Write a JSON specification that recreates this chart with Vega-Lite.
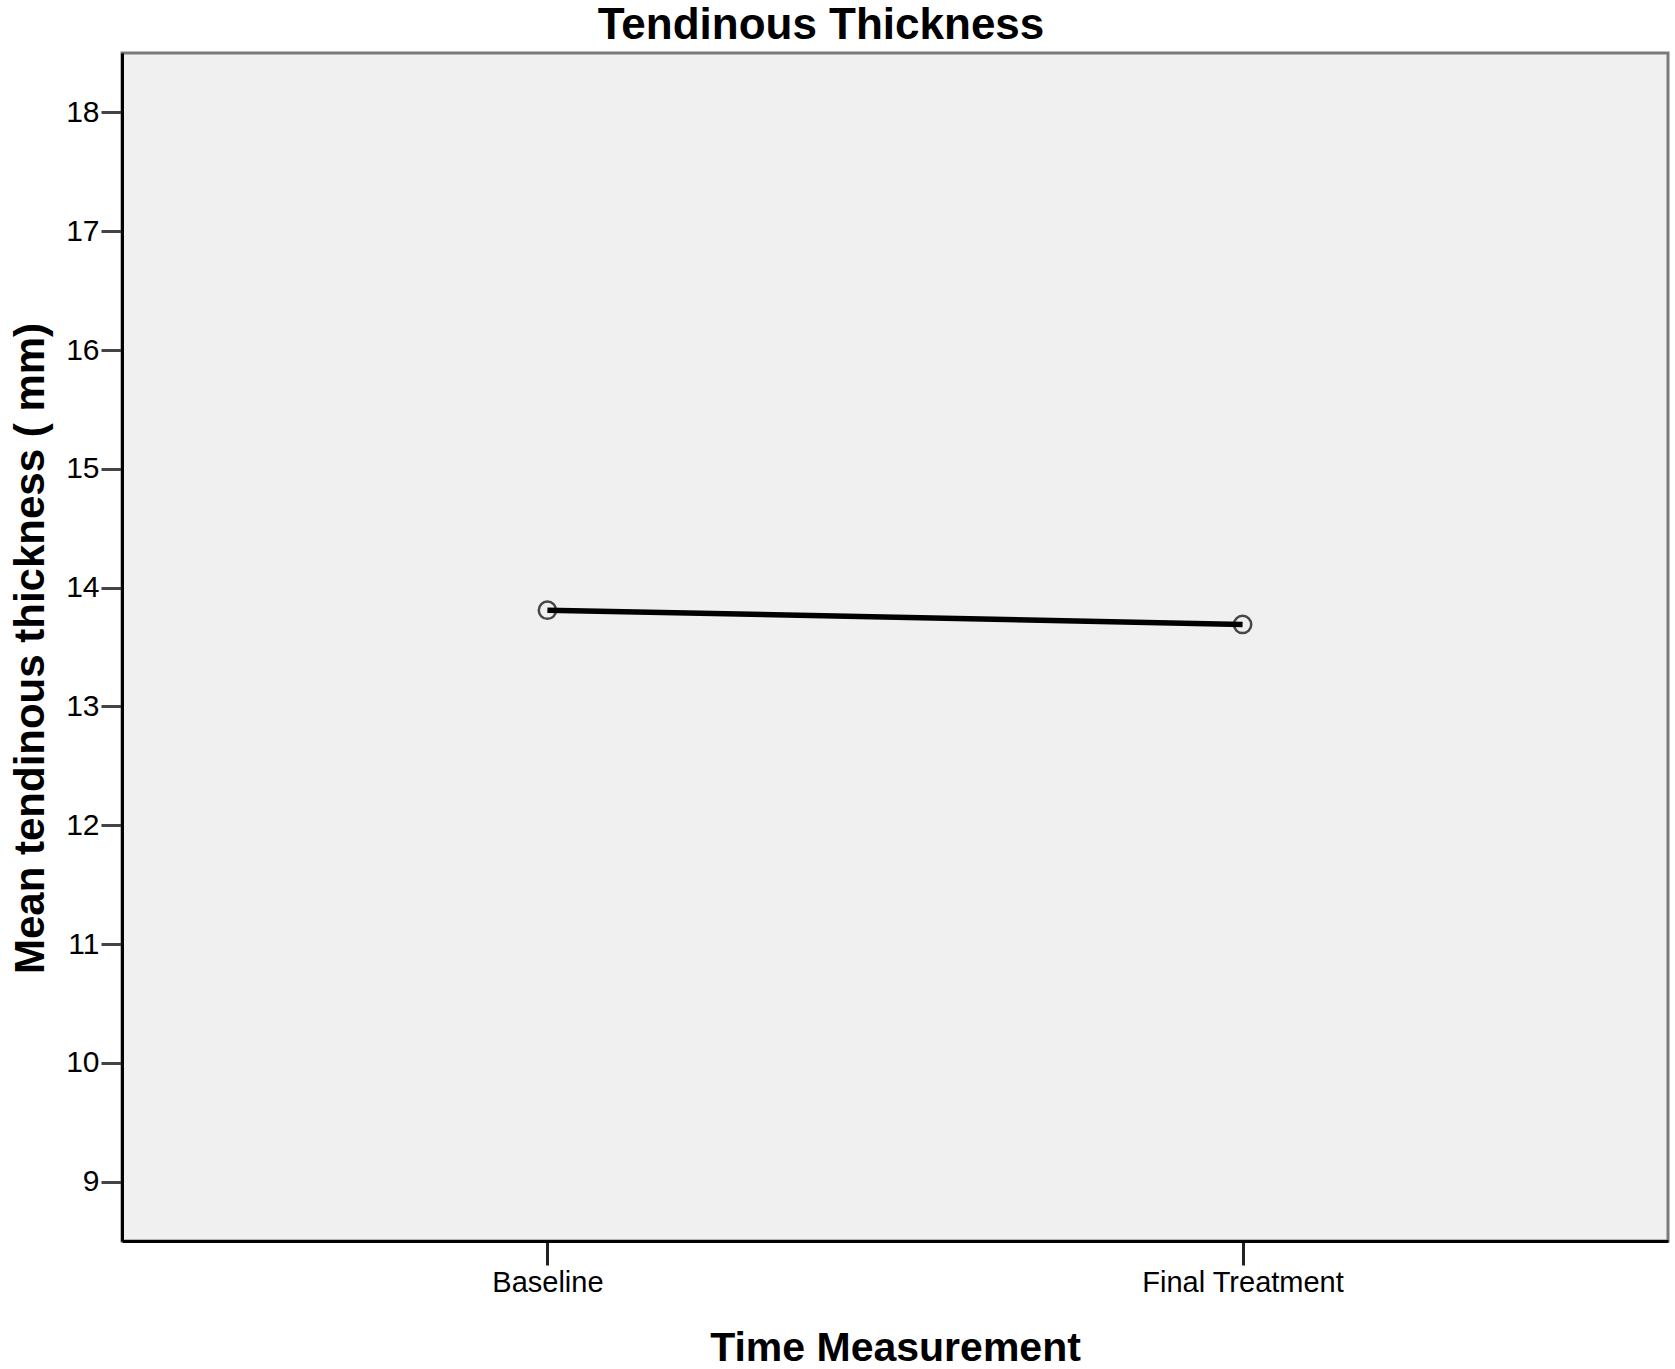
{
  "$schema": "https://vega.github.io/schema/vega-lite/v6.json",
  "autosize": {"type": "none"},
  "padding": {"left": 122, "top": 53, "right": 7, "bottom": 128},
  "width": 1546,
  "height": 1188,
  "background": "white",
  "title": {
    "text": "Tendinous Thickness",
    "font": "Liberation Sans",
    "fontSize": 44,
    "fontWeight": "bold",
    "color": "black",
    "anchor": "middle",
    "frame": "group",
    "baseline": "bottom",
    "offset": 4,
    "dx": -74,
    "dy": 43
  },
  "config": {
    "view": {"fill": "#f0f0f0", "stroke": "#7a7a7a", "strokeWidth": 3},
    "axis": {"grid": false, "labelFont": "Liberation Sans", "titleFont": "Liberation Sans", "labelColor": "black", "titleColor": "black"}
  },
  "data": {
    "values": [
      {"time": "Baseline", "thickness": 13.81},
      {"time": "Final Treatment", "thickness": 13.69}
    ]
  },
  "encoding": {
    "x": {
      "field": "time",
      "type": "nominal",
      "sort": null,
      "scale": {"type": "point", "padding": 0.612},
      "axis": {
        "title": "Time Measurement",
        "titleFontSize": 41,
        "titleFontWeight": "bold",
        "titleBaseline": "alphabetic",
        "titleY": 119,
        "labelAngle": 0,
        "labelFontSize": 29,
        "labelLimit": 0,
        "labelPadding": 3,
        "tickSize": 24,
        "tickWidth": 3,
        "tickColor": "#222",
        "domainColor": "black",
        "domainWidth": 3
      }
    },
    "y": {
      "field": "thickness",
      "type": "quantitative",
      "scale": {"domain": [8.5, 18.5], "nice": false, "zero": false},
      "axis": {
        "title": "Mean tendinous thickness ( mm)",
        "titleFontSize": 42,
        "titleFontWeight": "bold",
        "titleAngle": -90,
        "titleBaseline": "alphabetic",
        "titleX": -79,
        "titleY": 595,
        "values": [9, 10, 11, 12, 13, 14, 15, 16, 17, 18],
        "labelFontSize": 30,
        "labelPadding": 2,
        "tickSize": 21,
        "tickWidth": 3,
        "tickColor": "#444",
        "domainColor": "black",
        "domainWidth": 3
      }
    }
  },
  "layer": [
    {"mark": {"type": "line", "color": "black", "strokeWidth": 5.5}},
    {"mark": {"type": "point", "shape": "circle", "filled": false, "stroke": "black", "strokeWidth": 2.5, "size": 300}}
  ]
}
